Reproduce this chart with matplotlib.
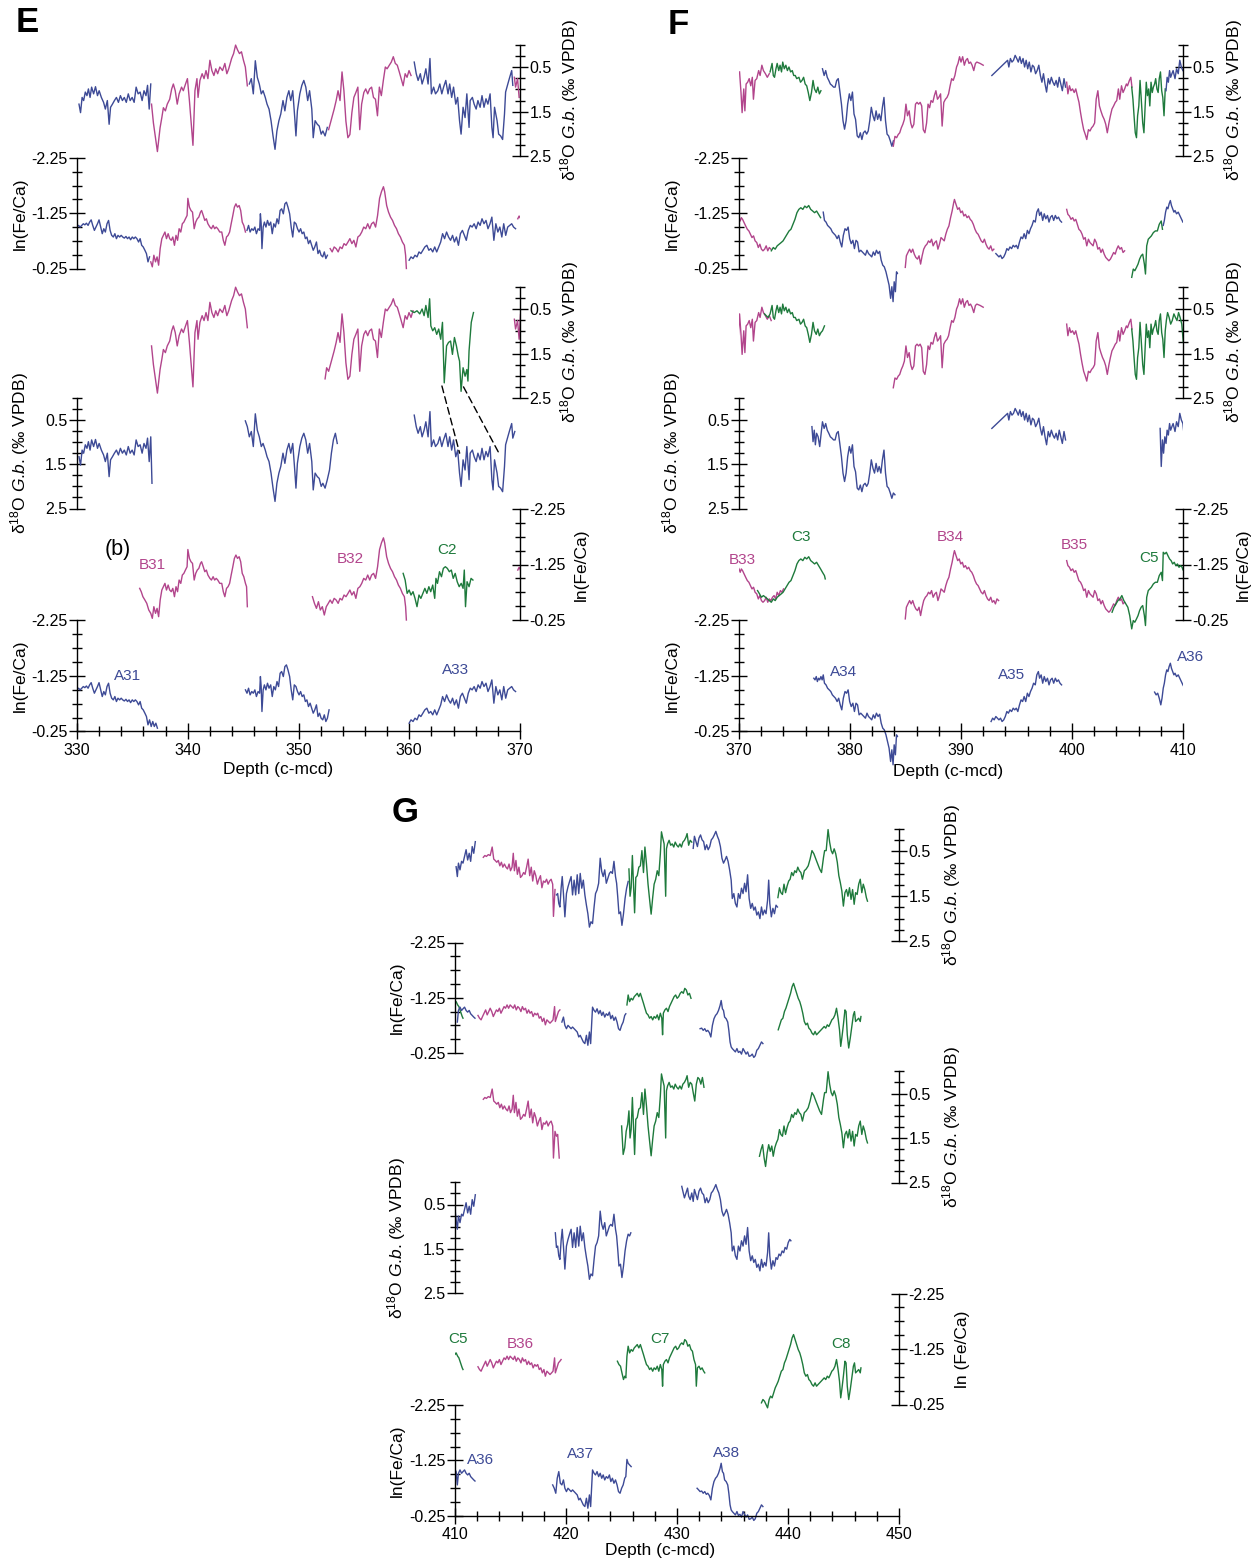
import numpy as np
import matplotlib
matplotlib.use("Agg")
import matplotlib.pyplot as plt
from matplotlib.patches import ConnectionPatch

plt.rcParams['font.family'] = ['Liberation Sans', 'DejaVu Sans']
plt.rcParams['mathtext.fontset'] = 'custom'
plt.rcParams['mathtext.rm'] = 'Liberation Sans'
plt.rcParams['mathtext.it'] = 'Liberation Sans:italic'
plt.rcParams['axes.unicode_minus'] = False

BLUE = '#3d4a96'
MAGENTA = '#b2458c'
GREEN = '#1e7a3c'

# ---------------------------------------------------------------------------
# delta18O G. bulloides (permil VPDB) by hole/core, depth in c-mcd
# ---------------------------------------------------------------------------
a31_iso_depth = [330.18, 330.32, 330.46, 330.6, 330.75, 330.9, 331.03, 331.18, 331.32, 331.5,
                 331.67, 331.85, 332.0, 332.2, 332.4, 332.56, 332.74, 332.9, 333.03, 333.2,
                 333.38, 333.56, 333.74, 333.92, 334.1, 334.27, 334.45, 334.63, 334.8, 334.98,
                 335.16, 335.34, 335.52, 335.7, 335.88, 336.05, 336.23, 336.37, 336.52, 336.66,
                 336.77]
a31_iso = [1.33, 1.52, 1.18, 1.25, 1.06, 1.14, 0.99, 1.18, 0.95, 1.10,
           0.94, 1.14, 1.03, 1.18, 1.29, 1.44, 1.25, 1.78, 1.40, 1.33,
           1.25, 1.18, 1.29, 1.14, 1.25, 1.18, 1.29, 1.10, 1.25, 1.18,
           1.29, 0.95, 1.10, 1.06, 1.25, 1.03, 1.14, 0.91, 1.44, 0.88,
           1.93]

a32_iso_depth = [345.2, 345.38, 345.56, 345.74, 345.92, 346.1, 346.28, 346.46, 346.64, 346.8,
                 347.0, 347.16, 347.34, 347.52, 347.7, 347.88, 348.05, 348.23, 348.4, 348.6,
                 348.77, 348.95, 349.13, 349.3, 349.48, 349.66, 349.77, 349.9, 350.12, 350.3,
                 350.48, 350.66, 350.83, 351.0, 351.2, 351.33, 351.5, 351.7, 351.87, 352.05,
                 352.2, 352.4, 352.6, 352.8, 352.97, 353.15, 353.33, 353.5]
a32_iso = [0.52, 0.65, 0.88, 0.76, 1.10, 0.36, 0.73, 0.88, 1.10, 1.03,
           1.18, 1.33, 1.44, 1.70, 2.04, 2.34, 1.93, 1.70, 1.55, 1.25,
           1.48, 1.18, 1.03, 1.25, 1.03, 1.63, 2.04, 1.48, 1.10, 0.91,
           0.80, 0.95, 1.25, 1.03, 1.44, 2.08, 1.70, 1.78, 1.82, 2.00,
           1.93, 2.04, 1.85, 1.63, 1.25, 0.95, 0.80, 1.03]

a33_iso_depth = [360.45, 360.63, 360.8, 361.0, 361.16, 361.34, 361.5, 361.7, 361.87, 362.0,
                 362.2, 362.37, 362.58, 362.76, 362.94, 363.1, 363.3, 363.5, 363.65, 363.83,
                 364.0, 364.2, 364.37, 364.54, 364.68, 364.86, 365.04, 365.2, 365.4, 365.5,
                 365.7, 365.86, 366.04, 366.2, 366.4, 366.57, 366.75, 366.93, 367.1, 367.3,
                 367.46, 367.57, 367.7, 367.93, 368.07, 368.25, 368.43, 368.6, 368.7, 368.9,
                 369.07, 369.25, 369.35, 369.53]
a33_iso = [0.39, 0.65, 0.80, 0.65, 0.88, 0.73, 0.54, 0.88, 0.31, 1.10,
           0.95, 1.10, 1.03, 0.88, 1.10, 0.95, 0.80, 1.10, 0.88, 1.18,
           0.95, 1.33, 1.18, 1.70, 2.00, 1.40, 1.63, 1.10, 1.85, 1.25,
           1.18, 1.33, 1.44, 1.25, 1.40, 1.14, 1.40, 1.21, 1.33, 1.10,
           1.85, 2.08, 1.40, 1.70, 2.00, 2.04, 2.12, 1.55, 1.06, 0.88,
           0.73, 0.58, 0.91, 0.76]

a34_iso_depth = [376.57, 376.67, 376.78, 376.88, 376.99, 377.13, 377.27, 377.42, 377.52, 377.67,
                 377.81, 377.95, 378.09, 378.23, 378.37, 378.52, 378.66, 378.8, 378.94, 379.08,
                 379.23, 379.37, 379.51, 379.65, 379.79, 379.94, 380.08, 380.22, 380.36, 380.5,
                 380.65, 380.79, 380.93, 381.07, 381.21, 381.36, 381.5, 381.64, 381.78, 381.92,
                 382.07, 382.21, 382.35, 382.49, 382.63, 382.78, 382.92, 383.06, 383.2, 383.34,
                 383.48, 383.63, 383.77, 383.91, 384.05]
a34_iso = [0.65, 0.99, 0.73, 1.06, 0.80, 0.88, 1.10, 0.76, 0.54, 0.69,
           0.58, 0.73, 0.80, 0.88, 0.91, 0.95, 0.95, 0.80, 0.76, 1.03,
           1.33, 1.70, 1.89, 1.70, 1.33, 1.10, 1.25, 1.06, 1.55, 1.67,
           2.04, 2.08, 1.97, 2.12, 1.97, 1.93, 2.00, 1.93, 1.70, 1.40,
           1.59, 1.70, 1.48, 1.67, 1.55, 1.70, 1.40, 1.18, 1.70, 2.00,
           2.04, 2.15, 2.27, 2.15, 2.19]

a35_iso_depth = [392.78, 394.2, 394.31, 394.45, 394.59, 394.73, 394.88, 395.02, 395.16, 395.3,
                 395.44, 395.59, 395.73, 395.87, 396.01, 396.15, 396.3, 396.44, 396.58, 396.72,
                 396.86, 397.01, 397.15, 397.29, 397.43, 397.57, 397.71, 397.86, 398.0, 398.14,
                 398.28, 398.42, 398.57, 398.71, 398.85, 398.99, 399.13, 399.28, 399.42]
a35_iso = [0.69, 0.35, 0.50, 0.31, 0.39, 0.35, 0.24, 0.31, 0.39, 0.27,
           0.42, 0.31, 0.50, 0.35, 0.54, 0.39, 0.61, 0.46, 0.50, 0.65,
           0.58, 0.46, 0.69, 0.84, 0.65, 0.88, 1.06, 0.76, 0.88, 0.73,
           0.84, 0.91, 0.80, 0.95, 0.73, 0.88, 1.03, 0.76, 0.95]

a36_iso_depth = [407.94, 408.04, 408.15, 408.25, 408.36, 408.47, 408.57, 408.68, 408.79, 408.89,
                 409.0, 409.11, 409.28, 409.42, 409.57, 409.71, 409.85, 409.99, 410.1, 410.21,
                 410.31, 410.45, 410.59, 410.72, 410.86, 411.0, 411.14, 411.28, 411.41, 411.55,
                 411.69, 411.83]
a36_iso = [0.69, 1.55, 0.95, 1.25, 0.88, 1.03, 0.73, 0.84, 0.58, 0.73,
           0.65, 0.58, 0.76, 0.54, 0.65, 0.35, 0.50, 0.58, 0.84, 1.06,
           0.76, 0.91, 0.72, 0.76, 0.61, 0.46, 0.69, 0.54, 0.72, 0.39,
           0.54, 0.28]

a37_iso_depth = [419.04, 419.14, 419.25, 419.35, 419.45, 419.56, 419.66, 419.77, 419.9, 420.04,
                 420.18, 420.32, 420.46, 420.59, 420.73, 420.87, 421.01, 421.15, 421.28, 421.42,
                 421.56, 421.7, 421.84, 421.97, 422.11, 422.25, 422.39, 422.53, 422.66, 422.8,
                 422.94, 423.08, 423.22, 423.35, 423.49, 423.63, 423.77, 423.91, 424.04, 424.18,
                 424.32, 424.46, 424.56, 424.66, 424.77, 424.91, 425.04, 425.18, 425.32, 425.46,
                 425.6, 425.73, 425.84]
a37_iso = [1.14, 1.47, 1.44, 1.66, 1.74, 1.32, 1.06, 1.44, 1.96, 1.44,
           1.29, 1.17, 1.06, 1.47, 1.14, 1.47, 1.02, 1.44, 0.99, 1.32,
           1.14, 1.47, 1.70, 1.89, 2.19, 2.07, 2.11, 1.74, 1.44, 1.36,
           1.21, 0.65, 0.95, 1.06, 0.91, 1.21, 1.10, 0.99, 0.95, 0.99,
           0.72, 1.06, 1.21, 1.51, 1.89, 1.85, 2.15, 1.89, 1.55, 1.32,
           1.17, 1.21, 1.14]

a38_iso_depth = [430.43, 430.53, 430.67, 430.81, 430.95, 431.05, 431.19, 431.33, 431.46, 431.57,
                 431.71, 431.84, 431.98, 432.12, 432.26, 432.4, 432.53, 432.67, 432.81, 432.95,
                 433.09, 433.22, 433.36, 433.5, 433.64, 433.77, 433.91, 434.05, 434.19, 434.33,
                 434.46, 434.6, 434.74, 434.88, 434.98, 435.12, 435.26, 435.4, 435.53, 435.67,
                 435.81, 435.95, 436.09, 436.22, 436.36, 436.5, 436.64, 436.78, 436.92, 437.05,
                 437.19, 437.33, 437.47, 437.61, 437.74, 437.88, 438.02, 438.16, 438.26, 438.36,
                 438.5, 438.64, 438.78, 438.92, 439.05, 439.19, 439.33, 439.47, 439.61, 439.74,
                 439.88, 440.02, 440.16, 440.26]
a38_iso = [0.09, 0.20, 0.35, 0.24, 0.13, 0.31, 0.39, 0.24, 0.43, 0.16,
           0.28, 0.39, 0.20, 0.13, 0.24, 0.28, 0.46, 0.35, 0.46, 0.39,
           0.24, 0.20, 0.13, 0.05, 0.16, 0.24, 0.39, 0.65, 0.76, 0.69,
           0.61, 0.72, 0.91, 1.14, 1.55, 1.44, 1.66, 1.74, 1.44, 1.55,
           1.32, 1.44, 1.21, 1.40, 1.02, 1.55, 1.77, 1.66, 1.81, 1.74,
           1.92, 1.85, 2.00, 1.74, 1.92, 1.81, 1.89, 1.59, 1.14, 1.66,
           1.96, 1.77, 1.89, 1.70, 1.74, 1.62, 1.66, 1.55, 1.59, 1.47,
           1.51, 1.36, 1.29, 1.32]

b31_iso_depth = [336.73, 336.9, 337.26, 337.5, 337.66, 337.8, 337.98, 338.15, 338.37, 338.55,
                 338.7, 338.87, 339.05, 339.22, 339.44, 339.6, 339.8, 339.97, 340.15, 340.47,
                 340.65, 340.83, 340.93, 341.1, 341.3, 341.47, 341.65, 341.82, 342.0, 342.18,
                 342.36, 342.53, 342.7, 342.9, 343.14, 343.35, 343.53, 343.7, 343.96, 344.14,
                 344.32, 344.5, 344.67, 344.85, 345.03, 345.2, 345.38]
b31_iso = [1.33, 1.75, 2.39, 1.86, 1.63, 1.41, 1.48, 1.33, 1.22, 0.99,
           0.88, 1.03, 1.33, 1.10, 0.95, 1.03, 0.88, 0.76, 1.25, 2.25,
           1.03, 0.76, 1.18, 0.80, 0.65, 0.76, 0.58, 0.76, 0.35, 0.58,
           0.69, 0.54, 0.65, 0.50, 0.58, 0.42, 0.65, 0.54, 0.31, 0.20,
           0.01, 0.12, 0.20, 0.16, 0.35, 0.50, 0.92]

b32_iso_depth = [352.4, 352.54, 352.72, 352.97, 353.22, 353.4, 353.57, 353.75, 353.93, 354.1,
                 354.28, 354.46, 354.64, 354.82, 355.0, 355.18, 355.36, 355.53, 355.7, 355.9,
                 356.07, 356.25, 356.42, 356.6, 356.77, 356.95, 357.13, 357.3, 357.48, 357.66,
                 357.84, 358.0, 358.2, 358.38, 358.56, 358.74, 358.92, 359.1, 359.27, 359.45,
                 359.63, 359.8, 359.98, 360.16, 360.34]
b32_iso = [2.07, 1.82, 1.90, 1.67, 1.44, 1.25, 1.03, 1.25, 0.61, 1.03,
           1.71, 2.08, 2.01, 1.52, 1.18, 1.07, 0.95, 1.90, 1.33, 1.07,
           0.99, 1.10, 0.99, 0.95, 1.18, 1.22, 1.59, 0.95, 1.14, 0.80,
           0.50, 0.54, 0.46, 0.39, 0.27, 0.42, 0.46, 0.61, 0.76, 0.92,
           0.65, 0.73, 0.58, 0.69, 0.54]

b33_iso_depth = [369.49, 369.6, 369.78, 369.92, 370.05, 370.18, 370.28, 370.43, 370.53, 370.64,
                 370.78, 370.92, 371.06, 371.2, 371.3, 371.45, 371.6, 371.77, 371.9, 372.06,
                 372.2, 372.38, 372.55, 372.73, 372.9]
b33_iso = [0.73, 0.95, 0.76, 1.18, 0.61, 1.07, 1.52, 0.99, 1.48, 0.88,
           0.84, 0.76, 0.92, 0.73, 1.22, 0.80, 0.76, 0.58, 0.69, 0.46,
           0.58, 0.65, 0.73, 0.65, 0.76]

b34_iso_depth = [383.9, 384.05, 384.2, 384.34, 384.48, 384.62, 384.76, 384.9, 385.04, 385.18,
                 385.33, 385.47, 385.6, 385.75, 385.9, 386.04, 386.18, 386.32, 386.46, 386.6,
                 386.75, 386.9, 387.03, 387.17, 387.3, 387.46, 387.6, 387.74, 387.88, 388.0,
                 388.16, 388.3, 388.45, 388.6, 388.74, 388.88, 389.02, 389.16, 389.3, 389.45,
                 389.6, 389.73, 389.87, 390.0, 390.15, 390.3, 390.44, 390.58, 390.72, 390.86,
                 391.0, 391.15, 391.3, 391.43, 391.72, 392.0]
b34_iso = [2.27, 2.05, 2.08, 2.01, 1.97, 1.86, 1.78, 1.67, 1.33, 1.59,
           1.48, 1.75, 1.86, 1.78, 1.33, 1.29, 1.33, 1.29, 1.37, 1.90,
           1.97, 1.75, 1.33, 1.41, 1.25, 1.29, 1.14, 1.03, 1.22, 1.18,
           1.10, 1.82, 1.29, 1.22, 1.18, 1.10, 0.92, 0.76, 0.80, 0.69,
           0.50, 0.42, 0.27, 0.39, 0.27, 0.46, 0.35, 0.31, 0.42, 0.39,
           0.46, 0.58, 0.42, 0.39, 0.42, 0.46]

b35_iso_depth = [399.52, 399.63, 399.77, 399.9, 400.05, 400.2, 400.34, 400.48, 400.63, 400.77,
                 400.9, 401.05, 401.2, 401.33, 401.48, 401.62, 401.76, 401.9, 402.04, 402.18,
                 402.33, 402.47, 402.6, 402.75, 402.9, 403.04, 403.18, 403.33, 403.46, 403.6,
                 403.75, 403.9, 404.03, 404.18, 404.3, 404.46, 404.6, 404.74, 404.9, 405.0,
                 405.17, 405.3, 405.4]
b35_iso = [0.84, 1.10, 0.92, 1.03, 0.99, 1.07, 0.99, 1.14, 1.29, 1.52,
           1.71, 1.90, 2.01, 2.12, 1.90, 1.93, 1.86, 1.82, 1.75, 1.22,
           1.03, 1.37, 1.48, 1.59, 1.67, 1.78, 1.97, 1.75, 1.59, 1.44,
           1.37, 1.29, 1.25, 0.99, 1.22, 0.92, 1.07, 0.99, 0.88, 0.92,
           0.80, 0.73, 0.95]

b36_iso_depth = [412.55, 412.69, 412.83, 413.0, 413.17, 413.35, 413.49, 413.62, 413.76, 413.9,
                 414.04, 414.18, 414.31, 414.45, 414.59, 414.73, 414.87, 415.0, 415.14, 415.25,
                 415.35, 415.49, 415.62, 415.76, 415.9, 416.04, 416.18, 416.31, 416.45, 416.59,
                 416.73, 416.87, 417.0, 417.14, 417.28, 417.42, 417.56, 417.7, 417.83, 417.97,
                 418.11, 418.25, 418.39, 418.52, 418.66, 418.8, 418.87, 419.01, 419.14, 419.25,
                 419.39]
b36_iso = [0.63, 0.59, 0.61, 0.57, 0.59, 0.40, 0.67, 0.70, 0.74, 0.70,
           0.82, 0.74, 0.85, 0.78, 0.85, 0.89, 0.78, 0.93, 0.85, 0.54,
           0.93, 0.70, 1.01, 0.85, 1.08, 1.04, 0.97, 1.01, 0.85, 0.67,
           1.04, 0.85, 1.16, 0.93, 1.04, 1.23, 1.12, 1.04, 1.31, 1.16,
           1.19, 1.12, 1.23, 1.16, 1.12, 1.23, 1.95, 1.35, 1.46, 1.42,
           1.95]

c2_iso_depth = [360.16, 360.45, 360.7, 360.95, 361.16, 361.34, 361.5, 361.7, 361.84, 361.95,
                362.12, 362.3, 362.48, 362.66, 362.84, 363.0, 363.16, 363.37, 363.55, 363.73,
                363.9, 364.08, 364.26, 364.43, 364.54, 364.68, 364.86, 365.04, 365.2, 365.3,
                365.4, 365.6, 365.8]
c2_iso = [0.54, 0.58, 0.54, 0.61, 0.50, 0.65, 0.42, 0.69, 0.27, 0.88,
          0.99, 0.92, 1.07, 0.95, 1.18, 0.80, 2.16, 1.33, 1.25, 1.22,
          1.52, 1.14, 1.33, 1.56, 1.67, 2.35, 1.82, 2.01, 1.86, 2.12,
          1.44, 0.80, 0.58]

c3_iso_depth = [372.3, 372.45, 372.63, 372.8, 372.98, 373.09, 373.2, 373.33, 373.44, 373.58,
                373.7, 373.83, 373.94, 374.08, 374.22, 374.36, 374.5, 374.65, 374.8, 374.93,
                375.07, 375.2, 375.4, 375.54, 375.68, 375.82, 375.96, 376.1, 376.24, 376.38,
                376.53, 376.67, 376.8, 376.96, 377.1, 377.24, 377.38, 377.52, 377.7]
c3_iso = [0.61, 0.65, 0.69, 0.61, 0.42, 0.69, 0.73, 0.54, 0.42, 0.58,
          0.46, 0.61, 0.39, 0.54, 0.46, 0.58, 0.50, 0.61, 0.58, 0.69,
          0.69, 0.76, 0.73, 0.84, 0.80, 0.73, 0.88, 0.92, 1.07, 1.25,
          1.07, 0.80, 0.99, 1.07, 0.95, 1.10, 1.03, 0.99, 0.88]

c5_iso_depth = [405.38, 405.49, 405.59, 405.7, 405.81, 405.91, 406.02, 406.13, 406.23, 406.37,
                406.48, 406.59, 406.69, 406.8, 406.91, 407.01, 407.12, 407.23, 407.33, 407.44,
                407.54, 407.65, 407.76, 407.86, 407.97, 408.08, 408.18, 408.29, 408.4, 408.5,
                408.61, 408.75, 408.89, 409.03, 409.18, 409.32, 409.46, 409.6, 409.74, 409.89,
                410.03, 410.17, 410.35]
c5_iso = [0.95, 1.22, 1.59, 1.97, 2.08, 1.59, 1.37, 0.80, 1.18, 1.75,
          1.97, 1.37, 0.84, 1.14, 0.99, 1.37, 0.84, 1.07, 0.95, 0.88,
          0.76, 0.99, 1.07, 0.76, 0.61, 1.03, 1.18, 1.59, 0.99, 0.76,
          0.58, 0.69, 0.84, 0.76, 0.61, 0.69, 0.76, 0.58, 0.69, 0.84,
          1.25, 0.61, 0.88]

c7_iso_depth = [425.01, 425.15, 425.29, 425.42, 425.56, 425.67, 425.77, 425.87, 425.98, 426.08,
                426.18, 426.29, 426.42, 426.56, 426.7, 426.84, 426.98, 427.11, 427.25, 427.39,
                427.53, 427.67, 427.81, 427.94, 428.08, 428.22, 428.36, 428.5, 428.6, 428.7,
                428.84, 428.98, 429.05, 429.15, 429.29, 429.43, 429.57, 429.71, 429.84, 429.98,
                430.12, 430.26, 430.4, 430.53, 430.67, 430.81, 430.91, 431.05, 431.19, 431.33,
                431.46, 431.6, 431.74, 431.88, 432.02, 432.15, 432.29, 432.43]
c7_iso = [1.23, 1.87, 1.72, 1.35, 1.19, 0.89, 1.50, 1.31, 0.59, 1.23,
          1.87, 1.08, 1.04, 0.85, 0.82, 0.48, 0.97, 0.40, 0.78, 1.23,
          1.57, 1.90, 1.53, 1.23, 1.12, 0.93, 1.04, 0.55, 0.06, 0.18,
          0.33, 1.50, 0.44, 0.33, 0.25, 0.36, 0.33, 0.40, 0.29, 0.36,
          0.40, 0.33, 0.40, 0.29, 0.25, 0.18, 0.10, 0.36, 0.25, 0.29,
          0.48, 0.67, 0.29, 0.14, 0.18, 0.29, 0.14, 0.36]

c8_iso_depth = [437.43, 437.57, 437.71, 437.85, 437.98, 438.12, 438.26, 438.4, 438.54, 438.67,
                438.81, 438.95, 439.09, 439.23, 439.36, 439.5, 439.64, 439.78, 439.92, 440.06,
                440.19, 440.33, 440.47, 440.61, 440.75, 440.88, 441.02, 441.16, 441.3, 441.47,
                441.64, 441.82, 441.99, 442.16, 442.33, 442.51, 442.68, 442.85, 443.02, 443.2,
                443.3, 443.44, 443.61, 443.75, 443.89, 444.02, 444.16, 444.3, 444.44, 444.58,
                444.71, 444.85, 444.99, 445.13, 445.27, 445.4, 445.54, 445.68, 445.82, 445.96,
                446.09, 446.23, 446.37, 446.51, 446.65, 446.78, 446.92, 447.06, 447.16]
c8_iso = [1.91, 1.76, 1.65, 1.95, 2.14, 1.84, 1.65, 1.80, 1.68, 1.91,
          1.72, 1.61, 1.53, 1.31, 1.42, 1.46, 1.23, 1.42, 1.27, 1.16,
          1.12, 0.97, 1.04, 0.93, 0.97, 0.85, 0.93, 0.97, 1.12, 0.93,
          0.89, 0.82, 0.67, 0.48, 0.55, 0.67, 0.78, 0.89, 0.97, 0.63,
          0.48, 0.48, 0.01, 0.29, 0.48, 0.55, 0.44, 0.55, 0.74, 1.04,
          1.19, 1.38, 1.72, 1.42, 1.35, 1.50, 1.31, 1.57, 1.35, 1.68,
          1.42, 1.46, 1.23, 1.12, 1.42, 1.23, 1.35, 1.53, 1.61]

# ---------------------------------------------------------------------------
# ln(Fe/Ca) XRF scans by hole/core, depth in c-mcd
# ---------------------------------------------------------------------------
a31_fe_depth = [330.0, 330.14, 330.28, 330.43, 330.57, 330.71, 330.85, 331.0, 331.14, 331.28,
                331.42, 331.57, 331.71, 331.85, 331.99, 332.14, 332.28, 332.42, 332.56, 332.71,
                332.85, 332.99, 333.13, 333.28, 333.42, 333.56, 333.7, 333.85, 333.99, 334.13,
                334.27, 334.42, 334.56, 334.7, 334.84, 334.99, 335.13, 335.27, 335.41, 335.56,
                335.7, 335.84, 335.98, 336.13, 336.27, 336.41, 336.55, 336.7, 336.84, 336.98,
                337.12, 337.26]
a31_fe = [-1.0, -1.03, -1.0, -1.03, -1.06, -1.04, -1.07, -1.03, -1.09, -1.13,
          -1.03, -0.94, -1.0, -1.06, -1.13, -1.0, -0.88, -0.97, -0.91, -1.06,
          -1.12, -0.94, -0.85, -0.82, -0.88, -0.79, -0.85, -0.82, -0.85, -0.82,
          -0.80, -0.83, -0.79, -0.82, -0.77, -0.82, -0.79, -0.82, -0.79, -0.73,
          -0.79, -0.67, -0.64, -0.58, -0.52, -0.37, -0.46, -0.34, -0.43, -0.34,
          -0.40, -0.31]

a32_fe_depth = [345.21, 345.35, 345.49, 345.63, 345.78, 345.92, 346.06, 346.2, 346.35, 346.49,
                346.56, 346.63, 346.7, 346.81, 346.92, 347.06, 347.2, 347.34, 347.49, 347.63,
                347.77, 347.91, 348.06, 348.2, 348.34, 348.48, 348.63, 348.77, 348.91, 349.05,
                349.2, 349.34, 349.48, 349.62, 349.77, 349.91, 350.05, 350.19, 350.33, 350.48,
                350.62, 350.76, 350.9, 351.05, 351.19, 351.33, 351.47, 351.62, 351.76, 351.9,
                352.04, 352.19, 352.33, 352.47, 352.61, 352.76]
a32_fe = [-1.0, -0.94, -1.03, -0.91, -0.97, -0.94, -1.0, -0.88, -0.97, -0.94,
          -1.24, -1.06, -0.61, -1.0, -1.09, -1.0, -1.12, -1.03, -1.09, -0.88,
          -1.06, -1.0, -1.15, -1.06, -1.30, -1.33, -1.24, -1.42, -1.45, -1.36,
          -1.24, -1.0, -0.82, -1.09, -1.06, -0.97, -0.91, -0.97, -0.88, -0.91,
          -0.79, -0.82, -0.70, -0.76, -0.67, -0.58, -0.64, -0.73, -0.52, -0.58,
          -0.49, -0.46, -0.55, -0.43, -0.49, -0.64]

a33_fe_depth = [359.99, 360.16, 360.34, 360.52, 360.7, 360.88, 361.05, 361.23, 361.41, 361.59,
                361.77, 361.94, 362.12, 362.3, 362.48, 362.66, 362.84, 363.01, 363.19, 363.37,
                363.55, 363.73, 363.91, 364.08, 364.26, 364.44, 364.62, 364.8, 364.98, 365.15,
                365.33, 365.51, 365.68, 365.86, 366.04, 366.22, 366.4, 366.57, 366.75, 366.93,
                367.11, 367.29, 367.46, 367.64, 367.82, 368.0, 368.18, 368.36, 368.53, 368.71,
                368.89, 369.07, 369.25, 369.42, 369.6]
a33_fe = [-0.40, -0.46, -0.43, -0.49, -0.46, -0.55, -0.52, -0.58, -0.64, -0.67,
          -0.58, -0.61, -0.55, -0.64, -0.55, -0.64, -0.73, -0.88, -0.79, -0.91,
          -0.82, -0.76, -0.85, -0.73, -0.82, -0.67, -0.88, -0.94, -0.85, -0.76,
          -0.94, -1.03, -1.0, -1.06, -0.97, -1.09, -1.03, -1.15, -1.06, -1.12,
          -0.97, -1.06, -1.18, -0.76, -1.06, -0.91, -1.0, -0.82, -1.06, -0.85,
          -1.0, -1.03, -1.06, -1.0, -0.97]

a34_fe_depth = [376.74, 376.85, 376.96, 377.06, 377.17, 377.27, 377.38, 377.49, 377.59, 377.7,
                377.84, 377.98, 378.13, 378.27, 378.41, 378.55, 378.69, 378.84, 378.98, 379.12,
                379.26, 379.4, 379.55, 379.69, 379.83, 379.97, 380.11, 380.26, 380.4, 380.54,
                380.68, 380.82, 380.97, 381.11, 381.25, 381.39, 381.53, 381.67, 381.82, 381.96,
                382.1, 382.24, 382.38, 382.53, 382.67, 382.81, 382.95, 383.09, 383.24, 383.38,
                383.52, 383.66, 383.77, 383.88, 383.98, 384.09, 384.19, 384.27]
a34_fe = [-1.21, -1.18, -1.24, -1.15, -1.21, -1.18, -1.24, -1.18, -1.27, -1.12,
          -1.09, -1.03, -1.0, -0.97, -0.91, -0.88, -0.85, -0.79, -0.85, -0.73,
          -0.64, -0.85, -0.97, -0.94, -1.0, -0.79, -0.70, -0.76, -0.61, -0.76,
          -0.73, -0.55, -0.58, -0.55, -0.52, -0.49, -0.58, -0.52, -0.49, -0.46,
          -0.55, -0.49, -0.58, -0.52, -0.56, -0.40, -0.31, -0.28, -0.19, -0.07,
          0.05, 0.29, 0.08, 0.35, -0.01, 0.17, -0.19, -0.16]

a35_fe_depth = [392.71, 392.85, 392.99, 393.14, 393.28, 393.42, 393.56, 393.7, 393.85, 393.99,
                394.13, 394.27, 394.41, 394.56, 394.7, 394.84, 394.98, 395.12, 395.27, 395.41,
                395.55, 395.69, 395.83, 395.98, 396.12, 396.26, 396.4, 396.54, 396.69, 396.83,
                396.97, 397.08, 397.22, 397.36, 397.5, 397.64, 397.79, 397.93, 398.07, 398.21,
                398.35, 398.5, 398.64, 398.78, 398.92, 399.06]
a35_fe = [-0.43, -0.49, -0.46, -0.52, -0.49, -0.46, -0.49, -0.43, -0.46, -0.52,
          -0.61, -0.58, -0.64, -0.61, -0.67, -0.64, -0.67, -0.61, -0.73, -0.82,
          -0.79, -0.88, -0.79, -0.94, -0.88, -0.97, -1.03, -1.12, -1.09, -1.27,
          -1.33, -1.21, -1.27, -1.12, -1.24, -1.15, -1.21, -1.09, -1.18, -1.21,
          -1.12, -1.21, -1.15, -1.18, -1.12, -1.09]

a36_fe_depth = [407.44, 407.58, 407.72, 407.86, 408.0, 408.11, 408.22, 408.32, 408.43, 408.54,
                408.64, 408.75, 408.86, 408.96, 409.07, 409.18, 409.28, 409.42, 409.57, 409.71,
                409.85, 409.99, 410.1, 410.21, 410.31, 410.45, 410.59, 410.72, 410.86, 411.0,
                411.14, 411.28, 411.41, 411.55, 411.69, 411.8]
a36_fe = [-0.96, -0.91, -0.94, -0.85, -0.73, -0.85, -1.03, -1.12, -1.27, -1.36,
          -1.33, -1.42, -1.48, -1.39, -1.33, -1.27, -1.30, -1.24, -1.27, -1.21,
          -1.15, -1.09, -1.05, -0.81, -1.02, -1.08, -1.02, -1.05, -1.08, -1.02,
          -0.99, -1.02, -0.96, -0.93, -0.90, -0.88]

a37_fe_depth = [418.8, 418.94, 419.08, 419.21, 419.35, 419.49, 419.63, 419.77, 419.9, 420.04,
                420.18, 420.32, 420.46, 420.59, 420.73, 420.87, 421.01, 421.15, 421.28, 421.42,
                421.56, 421.7, 421.84, 421.97, 422.11, 422.22, 422.32, 422.39, 422.53, 422.66,
                422.8, 422.94, 423.08, 423.22, 423.35, 423.49, 423.63, 423.77, 423.91, 424.04,
                424.18, 424.32, 424.46, 424.6, 424.73, 424.87, 425.01, 425.15, 425.29, 425.39,
                425.49, 425.6, 425.73, 425.87]
a37_fe = [-0.81, -0.75, -0.66, -0.93, -1.05, -0.84, -0.81, -0.90, -0.75, -0.69,
          -0.75, -0.72, -0.69, -0.72, -0.69, -0.66, -0.63, -0.54, -0.57, -0.51,
          -0.45, -0.42, -0.57, -0.39, -0.63, -0.42, -0.81, -1.08, -1.02, -0.99,
          -1.05, -0.96, -1.02, -0.93, -0.99, -0.90, -0.96, -0.93, -0.99, -0.87,
          -0.93, -0.84, -0.90, -0.81, -0.69, -0.66, -0.75, -0.81, -0.93, -0.96,
          -1.27, -1.20, -1.17, -1.14]

a38_fe_depth = [431.81, 431.95, 432.08, 432.22, 432.36, 432.5, 432.64, 432.77, 432.91, 433.05,
                433.19, 433.33, 433.47, 433.6, 433.74, 433.88, 433.98, 434.09, 434.19, 434.29,
                434.43, 434.57, 434.67, 434.78, 434.88, 434.98, 435.12, 435.26, 435.4, 435.53,
                435.67, 435.81, 435.95, 436.09, 436.22, 436.36, 436.5, 436.64, 436.78, 436.92,
                437.05, 437.19, 437.33, 437.47, 437.61, 437.74]
a38_fe = [-0.75, -0.72, -0.69, -0.70, -0.66, -0.69, -0.64, -0.66, -0.62, -0.54,
          -0.75, -0.87, -0.93, -0.96, -1.02, -1.11, -1.20, -1.05, -1.02, -0.90,
          -0.87, -0.81, -0.66, -0.45, -0.36, -0.33, -0.30, -0.27, -0.33, -0.26,
          -0.28, -0.23, -0.33, -0.28, -0.23, -0.27, -0.19, -0.20, -0.23, -0.17,
          -0.20, -0.30, -0.33, -0.39, -0.45, -0.42]

b31_fe_depth = [335.66, 335.8, 335.95, 336.13, 336.3, 336.48, 336.66, 336.8, 336.94, 337.09,
                337.23, 337.37, 337.51, 337.66, 337.8, 337.94, 338.08, 338.23, 338.37, 338.51,
                338.65, 338.8, 338.94, 339.08, 339.22, 339.37, 339.51, 339.65, 339.79, 339.94,
                340.01, 340.15, 340.29, 340.43, 340.58, 340.72, 340.86, 341.0, 341.15, 341.25,
                341.4, 341.54, 341.68, 341.82, 342.0, 342.14, 342.29, 342.43, 342.57, 342.71,
                342.89, 343.07, 343.21, 343.35, 343.5, 343.64, 343.78, 343.92, 344.07, 344.21,
                344.35, 344.49, 344.64, 344.78, 344.92, 345.06, 345.21, 345.31, 345.38]
b31_fe = [-0.82, -0.76, -0.67, -0.61, -0.55, -0.43, -0.37, -0.28, -0.49, -0.37,
          -0.46, -0.31, -0.61, -0.79, -0.85, -0.91, -0.79, -0.88, -0.79, -0.76,
          -0.82, -0.67, -0.85, -0.76, -0.97, -0.91, -1.06, -1.09, -1.15, -1.21,
          -1.52, -1.36, -1.30, -1.27, -0.97, -1.09, -1.15, -1.18, -1.27, -1.30,
          -1.21, -1.12, -1.15, -1.06, -1.0, -0.97, -1.03, -0.97, -1.0, -0.97,
          -0.91, -0.91, -0.76, -0.67, -0.82, -0.85, -0.91, -1.06, -1.21, -1.36,
          -1.42, -1.36, -1.39, -1.30, -1.09, -1.03, -0.91, -0.85, -0.49]

b32_fe_depth = [351.26, 351.44, 351.62, 351.8, 351.97, 352.15, 352.33, 352.51, 352.69, 352.86,
                353.04, 353.22, 353.4, 353.58, 353.75, 353.93, 354.11, 354.29, 354.47, 354.64,
                354.82, 355.0, 355.18, 355.36, 355.54, 355.71, 355.89, 356.07, 356.25, 356.43,
                356.6, 356.78, 356.96, 357.14, 357.32, 357.49, 357.67, 357.78, 357.96, 358.13,
                358.31, 358.49, 358.67, 358.85, 359.02, 359.2, 359.38, 359.56, 359.67, 359.74]
b32_fe = [-0.67, -0.55, -0.46, -0.58, -0.43, -0.49, -0.34, -0.49, -0.55, -0.61,
          -0.55, -0.64, -0.61, -0.55, -0.64, -0.61, -0.70, -0.67, -0.73, -0.79,
          -0.70, -0.76, -0.64, -0.82, -0.85, -0.91, -1.0, -0.97, -1.06, -0.97,
          -1.06, -1.09, -1.0, -1.21, -1.52, -1.64, -1.73, -1.64, -1.39, -1.27,
          -1.18, -1.12, -1.03, -0.97, -0.88, -0.82, -0.73, -0.67, -0.49, -0.25]

b33_fe_depth = [369.8, 369.92, 370.0, 370.11, 370.21, 370.32, 370.46, 370.6, 370.75, 370.89,
                371.03, 371.17, 371.31, 371.45, 371.6, 371.74, 371.88, 372.02, 372.16, 372.31,
                372.45, 372.59, 372.73, 372.87, 373.02, 373.16, 373.3, 373.44, 373.58, 373.73,
                373.87, 374.01]
b33_fe = [-1.15, -1.20, -1.17, -1.11, -1.17, -1.14, -1.08, -1.02, -0.96, -0.93,
          -0.87, -0.81, -0.84, -0.75, -0.72, -0.63, -0.69, -0.60, -0.57, -0.60,
          -0.66, -0.57, -0.63, -0.60, -0.66, -0.69, -0.63, -0.75, -0.69, -0.78,
          -0.75, -0.81]

b34_fe_depth = [384.98, 385.08, 385.22, 385.37, 385.51, 385.65, 385.79, 385.93, 386.08, 386.22,
                386.36, 386.5, 386.64, 386.79, 386.93, 387.07, 387.21, 387.35, 387.49, 387.64,
                387.78, 387.92, 388.06, 388.2, 388.35, 388.49, 388.63, 388.77, 388.91, 389.06,
                389.2, 389.34, 389.41, 389.55, 389.7, 389.84, 389.98, 390.12, 390.26, 390.4,
                390.55, 390.69, 390.83, 390.97, 391.11, 391.26, 391.4, 391.54, 391.68, 391.82,
                391.97, 392.11, 392.25, 392.39, 392.53, 392.68, 392.82, 392.96, 393.1, 393.24,
                393.39]
b34_fe = [-0.27, -0.48, -0.54, -0.60, -0.54, -0.60, -0.51, -0.45, -0.42, -0.48,
          -0.33, -0.48, -0.60, -0.66, -0.69, -0.75, -0.72, -0.78, -0.66, -0.72,
          -0.75, -0.60, -0.69, -0.81, -0.78, -0.75, -0.87, -0.96, -1.02, -1.17,
          -1.29, -1.44, -1.50, -1.41, -1.32, -1.35, -1.26, -1.29, -1.20, -1.23,
          -1.17, -1.20, -1.14, -1.11, -1.05, -0.96, -0.90, -0.87, -0.81, -0.75,
          -0.72, -0.78, -0.69, -0.63, -0.60, -0.66, -0.57, -0.60, -0.54, -0.63,
          -0.60]

b35_fe_depth = [399.52, 399.63, 399.77, 399.91, 400.06, 400.2, 400.34, 400.48, 400.62, 400.77,
                400.91, 401.05, 401.19, 401.33, 401.48, 401.62, 401.76, 401.9, 402.04, 402.19,
                402.33, 402.47, 402.61, 402.75, 402.9, 403.04, 403.18, 403.32, 403.46, 403.61,
                403.75, 403.89, 404.03, 404.17, 404.32, 404.46, 404.6, 404.74]
b35_fe = [-1.32, -1.23, -1.20, -1.14, -1.17, -1.11, -1.14, -1.05, -0.96, -0.93,
          -0.87, -0.78, -0.81, -0.66, -0.78, -0.72, -0.69, -0.66, -0.78, -0.72,
          -0.60, -0.63, -0.54, -0.60, -0.51, -0.45, -0.42, -0.39, -0.42, -0.48,
          -0.54, -0.51, -0.60, -0.66, -0.60, -0.63, -0.54, -0.57]

b36_fe_depth = [412.07, 412.21, 412.35, 412.48, 412.62, 412.76, 412.9, 413.04, 413.17, 413.31,
                413.45, 413.59, 413.73, 413.86, 414.0, 414.14, 414.28, 414.42, 414.55, 414.69,
                414.83, 414.97, 415.11, 415.25, 415.38, 415.52, 415.66, 415.8, 415.94, 416.07,
                416.21, 416.35, 416.49, 416.63, 416.76, 416.9, 417.04, 417.18, 417.32, 417.45,
                417.59, 417.73, 417.87, 418.01, 418.14, 418.28, 418.42, 418.56, 418.7, 418.83,
                418.97, 419.04, 419.18, 419.32, 419.45, 419.56]
b36_fe = [-0.93, -0.88, -0.85, -0.91, -0.97, -1.03, -0.94, -1.0, -1.06, -1.0,
          -0.91, -0.97, -1.03, -1.0, -1.06, -0.97, -1.03, -1.09, -1.06, -1.12,
          -1.06, -1.12, -1.09, -1.06, -1.12, -1.03, -1.09, -1.06, -1.0, -1.09,
          -1.03, -1.06, -0.97, -1.03, -0.97, -1.0, -0.91, -0.97, -0.94, -0.97,
          -0.88, -0.91, -0.82, -0.88, -0.76, -0.85, -0.82, -0.79, -0.82, -0.85,
          -1.09, -0.82, -0.91, -1.0, -1.03, -1.06]

c2_fe_depth = [359.45, 359.63, 359.81, 359.99, 360.16, 360.34, 360.52, 360.7, 360.88, 361.05,
               361.23, 361.41, 361.59, 361.77, 361.94, 362.12, 362.3, 362.41, 362.55, 362.73,
               362.91, 363.08, 363.26, 363.44, 363.62, 363.8, 363.97, 364.15, 364.33, 364.51,
               364.69, 364.86, 364.97, 365.08, 365.22, 365.4, 365.58, 365.75]
c2_fe = [-1.09, -0.97, -0.73, -0.79, -0.70, -0.76, -0.64, -0.49, -0.70, -0.64,
         -0.73, -0.82, -0.73, -0.85, -0.76, -0.88, -0.64, -1.0, -0.91, -1.12,
         -1.03, -1.18, -1.21, -1.18, -1.12, -1.15, -1.0, -1.09, -0.94, -0.85,
         -0.91, -0.82, -1.15, -0.49, -0.94, -0.85, -1.0, -0.97]

c3_fe_depth = [371.67, 371.85, 372.02, 372.2, 372.38, 372.56, 372.73, 372.91, 373.09, 373.26,
               373.44, 373.62, 373.8, 373.97, 374.15, 374.33, 374.51, 374.68, 374.86, 375.04,
               375.22, 375.39, 375.57, 375.75, 375.93, 376.1, 376.28, 376.46, 376.64, 376.81,
               376.99, 377.17, 377.35, 377.52, 377.7, 377.77]
c3_fe = [-0.78, -0.72, -0.66, -0.69, -0.66, -0.63, -0.60, -0.57, -0.63, -0.60,
         -0.66, -0.69, -0.72, -0.75, -0.81, -0.87, -0.93, -0.96, -1.05, -1.14,
         -1.26, -1.32, -1.35, -1.32, -1.38, -1.35, -1.39, -1.32, -1.29, -1.26,
         -1.29, -1.23, -1.17, -1.11, -1.05, -0.99]

c5_fe_depth = [403.61, 403.78, 403.96, 404.14, 404.32, 404.49, 404.67, 404.85, 405.03, 405.2,
               405.38, 405.52, 405.66, 405.81, 405.95, 406.09, 406.23, 406.37, 406.52, 406.62,
               406.73, 406.87, 407.01, 407.15, 407.33, 407.51, 407.69, 407.86, 408.04, 408.15,
               408.22, 408.36, 408.5, 408.64, 408.79, 408.93, 409.07, 409.21, 409.35, 409.5,
               409.64, 409.78, 409.92, 410.0, 410.1, 410.24, 410.35, 410.45, 410.55, 410.65,
               410.72]
c5_fe = [-0.39, -0.48, -0.54, -0.60, -0.63, -0.69, -0.60, -0.54, -0.48, -0.33,
         -0.09, -0.24, -0.21, -0.27, -0.33, -0.42, -0.48, -0.51, -0.33, -0.15,
         -0.66, -0.78, -0.81, -0.84, -0.90, -0.93, -0.93, -1.05, -1.11, -0.96,
         -1.47, -1.44, -1.47, -1.41, -1.35, -1.32, -1.26, -1.29, -1.23, -1.26,
         -1.20, -1.23, -1.20, -1.15, -1.18, -1.12, -1.09, -1.03, -0.97, -0.91,
         -0.88]

c7_fe_depth = [424.63, 424.77, 424.91, 425.04, 425.18, 425.29, 425.39, 425.49, 425.6, 425.73,
               425.87, 426.01, 426.15, 426.29, 426.42, 426.56, 426.7, 426.84, 426.98, 427.11,
               427.25, 427.39, 427.53, 427.67, 427.81, 427.94, 428.08, 428.22, 428.36, 428.5,
               428.63, 428.7, 428.77, 428.91, 429.05, 429.19, 429.32, 429.46, 429.6, 429.74,
               429.88, 430.01, 430.15, 430.29, 430.43, 430.57, 430.7, 430.84, 430.98, 431.12,
               431.26, 431.39, 431.53, 431.67, 431.74, 431.84, 431.98, 432.12, 432.26, 432.4,
               432.5]
c7_fe = [-1.03, -0.97, -0.94, -0.82, -0.70, -0.76, -0.73, -1.12, -1.30, -1.18,
         -1.24, -1.21, -1.27, -1.30, -1.33, -1.27, -1.33, -1.24, -1.15, -1.06,
         -0.97, -0.94, -0.88, -0.91, -0.85, -0.91, -0.88, -0.94, -0.85, -0.97,
         -0.88, -0.58, -0.97, -1.03, -1.06, -1.0, -1.09, -1.15, -1.21, -1.27,
         -1.30, -1.24, -1.27, -1.33, -1.36, -1.33, -1.42, -1.39, -1.30, -1.33,
         -1.24, -1.21, -1.06, -0.97, -0.58, -0.91, -0.94, -0.88, -0.91, -0.85,
         -0.82]

c8_fe_depth = [437.61, 437.74, 437.88, 438.02, 438.16, 438.3, 438.43, 438.57, 438.71, 438.85,
               438.99, 439.12, 439.26, 439.4, 439.54, 439.68, 439.81, 439.95, 440.09, 440.23,
               440.37, 440.5, 440.64, 440.78, 440.92, 441.06, 441.19, 441.33, 441.47, 441.61,
               441.75, 441.88, 442.02, 442.16, 442.3, 442.44, 442.57, 442.71, 442.85, 442.99,
               443.13, 443.26, 443.4, 443.54, 443.68, 443.82, 443.95, 444.09, 444.23, 444.37,
               444.51, 444.64, 444.75, 444.85, 444.99, 445.13, 445.23, 445.34, 445.47, 445.61,
               445.75, 445.89, 445.99, 446.09, 446.23, 446.37, 446.51, 446.57]
c8_fe = [-0.28, -0.34, -0.31, -0.25, -0.19, -0.34, -0.40, -0.37, -0.46, -0.55,
         -0.61, -0.67, -0.76, -0.85, -0.88, -1.0, -1.06, -1.15, -1.24, -1.33,
         -1.45, -1.51, -1.42, -1.33, -1.24, -1.18, -1.09, -0.97, -0.82, -0.76,
         -0.79, -0.70, -0.67, -0.61, -0.58, -0.64, -0.58, -0.61, -0.64, -0.67,
         -0.70, -0.73, -0.70, -0.76, -0.73, -0.79, -0.85, -0.88, -0.94, -1.06,
         -0.88, -0.67, -0.37, -0.52, -0.76, -1.03, -1.0, -0.58, -0.34, -0.52,
         -0.73, -0.94, -1.0, -0.82, -0.85, -0.88, -0.82, -0.91]

ISO = {
    'A31': (a31_iso_depth, a31_iso), 'A32': (a32_iso_depth, a32_iso), 'A33': (a33_iso_depth, a33_iso),
    'A34': (a34_iso_depth, a34_iso), 'A35': (a35_iso_depth, a35_iso), 'A36': (a36_iso_depth, a36_iso),
    'A37': (a37_iso_depth, a37_iso), 'A38': (a38_iso_depth, a38_iso),
    'B31': (b31_iso_depth, b31_iso), 'B32': (b32_iso_depth, b32_iso), 'B33': (b33_iso_depth, b33_iso),
    'B34': (b34_iso_depth, b34_iso), 'B35': (b35_iso_depth, b35_iso), 'B36': (b36_iso_depth, b36_iso),
    'C2': (c2_iso_depth, c2_iso), 'C3': (c3_iso_depth, c3_iso), 'C5': (c5_iso_depth, c5_iso),
    'C7': (c7_iso_depth, c7_iso), 'C8': (c8_iso_depth, c8_iso),
}
FE = {
    'A31': (a31_fe_depth, a31_fe), 'A32': (a32_fe_depth, a32_fe), 'A33': (a33_fe_depth, a33_fe),
    'A34': (a34_fe_depth, a34_fe), 'A35': (a35_fe_depth, a35_fe), 'A36': (a36_fe_depth, a36_fe),
    'A37': (a37_fe_depth, a37_fe), 'A38': (a38_fe_depth, a38_fe),
    'B31': (b31_fe_depth, b31_fe), 'B32': (b32_fe_depth, b32_fe), 'B33': (b33_fe_depth, b33_fe),
    'B34': (b34_fe_depth, b34_fe), 'B35': (b35_fe_depth, b35_fe), 'B36': (b36_fe_depth, b36_fe),
    'C2': (c2_fe_depth, c2_fe), 'C3': (c3_fe_depth, c3_fe), 'C5': (c5_fe_depth, c5_fe),
    'C7': (c7_fe_depth, c7_fe), 'C8': (c8_fe_depth, c8_fe),
}

# splice tie windows (core, top depth, bottom depth)
e_iso_splice = [('A31', 330.0, 336.7), ('B31', 336.7, 345.4), ('A32', 345.4, 352.6),
                ('B32', 352.6, 360.2), ('A33', 360.4, 369.45), ('B33', 369.45, 370.0)]
e_fe_splice = [('A31', 330.0, 336.6), ('B31', 336.6, 345.3), ('A32', 345.3, 352.7),
               ('B32', 352.7, 359.8), ('A33', 359.95, 369.7), ('B33', 369.7, 370.0)]
f_iso_splice = [('B33', 370.0, 372.75), ('C3', 372.75, 377.5), ('A34', 377.5, 383.92),
                ('B34', 383.9, 392.0), ('A35', 392.7, 399.45), ('B35', 399.5, 405.4),
                ('C5', 405.38, 408.4), ('A36', 408.4, 410.0)]
f_fe_splice = [('B33', 370.0, 372.9), ('C3', 372.9, 377.5), ('A34', 377.5, 384.3),
               ('B34', 384.9, 393.0), ('A35', 393.0, 399.1), ('B35', 399.5, 405.4),
               ('C5', 405.38, 408.2), ('A36', 408.2, 410.0)]
g_iso_splice = [('A36', 410.0, 411.9), ('B36', 412.5, 419.05), ('A37', 419.1, 425.6),
                ('C7', 425.6, 431.35), ('A38', 431.4, 439.06), ('C8', 439.05, 447.2)]
g_fe_splice = [('C5', 410.0, 410.75), ('A36', 410.2, 411.85), ('B36', 412.0, 419.5),
               ('A37', 419.5, 425.45), ('C7', 425.45, 431.3), ('A38', 432.0, 437.8),
               ('C8', 439.1, 446.6)]

# cores shown in the hole tracks of each panel
e_bc = ['B31', 'B32', 'C2', 'B33']
e_a = ['A31', 'A32', 'A33']
f_bc = ['B33', 'C3', 'B34', 'B35', 'C5']
f_a = ['A34', 'A35', 'A36']
g_iso_bc = ['B36', 'C7', 'C8']
g_fe_bc = ['C5', 'B36', 'C7', 'C8']
g_a = ['A36', 'A37', 'A38']

HOLE_COLOR = {'A': BLUE, 'B': MAGENTA, 'C': GREEN}

# ---------------------------------------------------------------------------
W, H = 1257, 1562
fig = plt.figure(figsize=(W / 100, H / 100), dpi=100)
fig.patch.set_facecolor('white')

# panel: pixel x of first/last depth, depth range, vertical shift
PANELS = {'E': (77, 520, 330, 370, 0.0),
          'F': (739, 1183, 370, 410, 0.0),
          'G': (455, 899, 410, 450, 784.5)}
# track: kind, axis side, pixel y of top and bottom labelled tick
TRACKS = [('iso', 'right', 67.0, 156.5),
          ('fe', 'left', 158.0, 268.5),
          ('iso', 'right', 309.0, 398.0),
          ('iso', 'left', 420.0, 508.5),
          ('fe', 'right', 509.0, 620.0),
          ('fe', 'left', 620.5, 731.5)]
MARGIN = 75
LW = 1.0
TICK_FS = 11.5


def fpos(x, y):
    return x / W, 1 - y / H


def add_track(panel, idx, xaxis=False):
    px0, px1, d0, d1, dy = PANELS[panel]
    kind, side, pya, pyb = TRACKS[idx]
    pya += dy
    pyb += dy
    if kind == 'iso':
        va, vb, lo = 0.5, 2.5, 0.0
        major, labels = [0.5, 1.5, 2.5], ['0.5', '1.5', '2.5']
    else:
        va, vb, lo = -2.25, -0.25, -2.25
        major, labels = [-2.25, -1.25, -0.25], ['-2.25', '-1.25', '-0.25']
    k = (vb - va) / (pyb - pya)
    top_px, bot_px = pya - MARGIN, pyb + MARGIN
    ax = fig.add_axes([px0 / W, 1 - bot_px / H, (px1 - px0) / W, (bot_px - top_px) / H])
    ax.set_xlim(d0, d1)
    ax.set_ylim(vb + MARGIN * k, va - MARGIN * k)
    ax.patch.set_visible(False)
    for s in ax.spines.values():
        s.set_visible(False)
    sp = ax.spines[side]
    sp.set_visible(True)
    sp.set_bounds(lo, vb)
    sp.set_linewidth(1.0)
    ax.set_yticks(major)
    ax.set_yticklabels(labels)
    minor = [t for t in np.arange(lo, vb + 1e-6, 0.25)
             if min(abs(t - m) for m in major) > 1e-6]
    ax.set_yticks(minor, minor=True)
    if side == 'right':
        ax.yaxis.tick_right()
    else:
        ax.yaxis.tick_left()
    ax.tick_params(axis='y', which='major', direction='inout', length=12, width=1,
                   labelsize=TICK_FS, pad=1)
    ax.tick_params(axis='y', which='minor', direction='inout', length=7, width=1)
    if xaxis:
        sb = ax.spines['bottom']
        sb.set_visible(True)
        sb.set_position(('data', -0.25))
        sb.set_bounds(d0, d1)
        sb.set_linewidth(1.0)
        ax.set_xticks(np.arange(d0, d1 + 1, 10))
        ax.set_xticks(np.arange(d0, d1 + 1, 2), minor=True)
        ax.tick_params(axis='x', which='major', direction='inout', length=12, width=1,
                       labelsize=TICK_FS, pad=2)
        ax.tick_params(axis='x', which='minor', direction='inout', length=7, width=1)
    else:
        ax.set_xticks([])
    # centre of the drawn spine, in pixels, for the axis title
    centre = (pya - (va - lo) / k + pyb) / 2
    return ax, centre


def draw_cores(ax, table, cores):
    for c in cores:
        d, v = table[c]
        ax.plot(d, v, color=HOLE_COLOR[c[0]], lw=LW)


def draw_splice(ax, table, windows):
    for c, lo, hi in windows:
        d, v = np.asarray(table[c][0]), np.asarray(table[c][1])
        keep = (d >= lo) & (d <= hi)
        ax.plot(d[keep], v[keep], color=HOLE_COLOR[c[0]], lw=LW)


ISO_LABEL = 'δ$^{18}$O $\\mathit{G}$.$\\mathit{b}$. (‰ VPDB)'
FE_LABEL = 'ln(Fe/Ca)'

setup = {
    'E': dict(iso_splice=e_iso_splice, fe_splice=e_fe_splice, iso_bc=e_bc, fe_bc=e_bc,
              a=e_a, left=57, r_iso=50, r_fe=61, fe_right='ln(Fe/Ca)'),
    'F': dict(iso_splice=f_iso_splice, fe_splice=f_fe_splice, iso_bc=f_bc, fe_bc=f_bc,
              a=f_a, left=67, r_iso=51, r_fe=60, fe_right='ln(Fe/Ca)'),
    'G': dict(iso_splice=g_iso_splice, fe_splice=g_fe_splice, iso_bc=g_iso_bc, fe_bc=g_fe_bc,
              a=g_a, left=58, r_iso=53, r_fe=64, fe_right='ln (Fe/Ca)'),
}

axes = {}
for p, cfg in setup.items():
    px0, px1 = PANELS[p][0], PANELS[p][1]
    t = [add_track(p, i, xaxis=(i == 5)) for i in range(6)]
    axes[p] = [a for a, _ in t]
    a1, a2, a3, a4, a5, a6 = axes[p]
    draw_splice(a1, ISO, cfg['iso_splice'])
    draw_splice(a2, FE, cfg['fe_splice'])
    draw_cores(a3, ISO, cfg['iso_bc'])
    draw_cores(a4, ISO, cfg['a'])
    draw_cores(a5, FE, cfg['fe_bc'])
    draw_cores(a6, FE, cfg['a'])

    titles = [(ISO_LABEL, px1 + cfg['r_iso']), (FE_LABEL, px0 - cfg['left']),
              (ISO_LABEL, px1 + cfg['r_iso']), (ISO_LABEL, px0 - cfg['left']),
              (cfg['fe_right'], px1 + cfg['r_fe']), (FE_LABEL, px0 - cfg['left'])]
    for (txt, x), (_, yc) in zip(titles, t):
        fig.text(*fpos(x, yc), txt, rotation=90, ha='center', va='center', fontsize=12.5)

# depth axis titles
for x, y in [(278, 769), (948, 772), (660, 1551)]:
    fig.text(*fpos(x, y), 'Depth (c-mcd)', ha='center', va='center', fontsize=12.5)

# panel letters
for letter, x, y in [('E', 27, 22), ('F', 678, 25), ('G', 405, 813)]:
    fig.text(*fpos(x, y), letter, ha='center', va='center', fontsize=25, fontweight='bold')

fig.text(*fpos(117.5, 549), '(b)', ha='center', va='center', fontsize=15.5)

# core labels
core_labels = [('B31', 152, 565), ('B32', 350, 559), ('C2', 447, 550), ('A31', 128, 676),
               ('A33', 456, 670),
               ('B33', 742, 560), ('C3', 801, 537), ('B34', 950, 537), ('B35', 1074, 545),
               ('C5', 1149, 558), ('A34', 844, 672), ('A35', 1012, 675), ('A36', 1191, 657),
               ('C5', 458, 1339), ('B36', 520, 1344), ('C7', 660, 1339), ('C8', 841, 1344),
               ('A36', 481, 1460), ('A37', 580, 1454), ('A38', 727, 1453)]
for name, x, y in core_labels:
    fig.text(*fpos(x, y), name, ha='center', va='center', fontsize=11,
             color=HOLE_COLOR[name[0]])

# correlation lines between C2 and A33 minima
ax3, ax4 = axes['E'][2], axes['E'][3]
for (da, va), (db, vb) in [((362.95, 2.23), (364.55, 1.25)), ((364.9, 2.25), (368.1, 1.25))]:
    con = ConnectionPatch(xyA=(da, va), coordsA=ax3.transData,
                          xyB=(db, vb), coordsB=ax4.transData,
                          color='black', lw=1.0, linestyle=(0, (5, 3)))
    fig.add_artist(con)

fig.savefig('out.png', dpi=100, facecolor='white')
